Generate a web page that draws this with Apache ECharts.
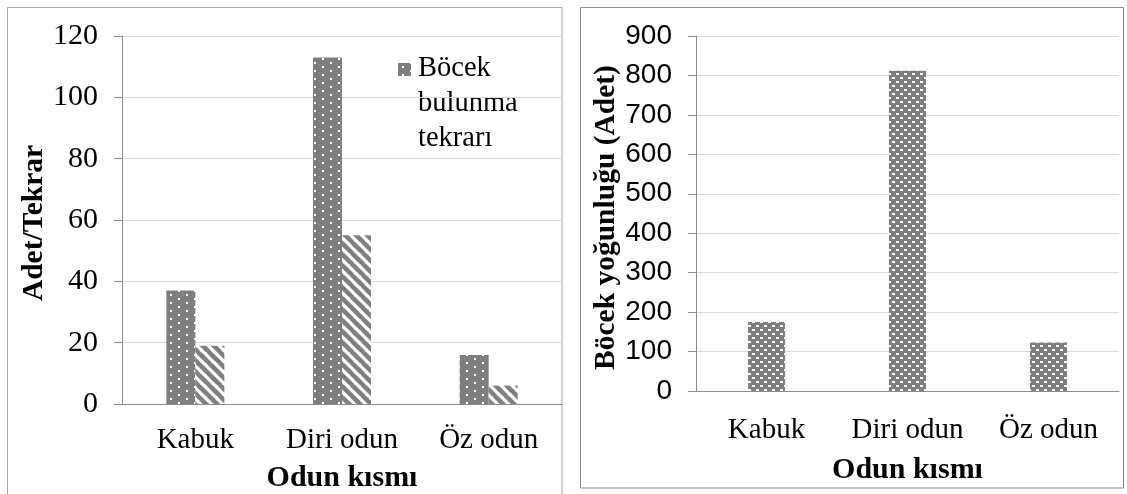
<!DOCTYPE html>
<html>
<head>
<meta charset="utf-8">
<script src="https://cdn.jsdelivr.net/npm/echarts@6/dist/echarts.min.js"></script>
<style>
    html, body { margin: 0; background: #fff; }
    #chart { width: 1127px; height: 494px; }
</style>
</head>
<body>
<div id="chart"></div>
<script>
// kategori ve değerler
const categories = ['Kabuk', 'Diri odun', 'Öz odun'];
const bulunmaTekrari = [37, 113, 16];
const ikinciSeri = [19, 55, 6];
const yogunluk = [175, 812, 123];

const leftAxis = { min: 0, max: 120, interval: 20 };
const rightAxis = { min: 0, max: 900, interval: 100 };

const serif = 'Liberation Serif, Times New Roman, serif';
const sans = 'Liberation Sans, Arial, sans-serif';
const gray = '#7f7f7f';

function tile(w, h, draw) {
    const c = document.createElement('canvas');
    c.width = w;
    c.height = h;
    draw(c.getContext('2d'));
    return { image: c, repeat: 'repeat' };
}

// noktalı desen
const dotted = tile(16, 8, (g) => {
    g.fillStyle = gray;
    g.fillRect(0, 0, 16, 8);
    g.fillStyle = '#fff';
    g.fillRect(2, 2, 2, 2);
    g.fillRect(10, 6, 2, 2);
});

// çapraz çizgili desen
const hatched = tile(11, 11, (g) => {
    g.fillStyle = '#fff';
    g.fillRect(0, 0, 11, 11);
    g.strokeStyle = gray;
    g.lineWidth = 4.5;
    [-11, 0, 11].forEach((o) => {
        g.beginPath();
        g.moveTo(o - 1, -1);
        g.lineTo(o + 12, 12);
        g.stroke();
    });
});

// tuğla desen
const brick = tile(8, 8, (g) => {
    g.fillStyle = gray;
    g.fillRect(0, 0, 8, 8);
    g.fillStyle = '#fff';
    g.fillRect(0, 1, 3, 2);
    g.fillRect(4, 5, 3, 2);
});

const nameStyle = { color: '#000', fontFamily: serif, fontSize: 30, fontWeight: 'bold' };

const valueAxisBase = {
    type: 'value',
    axisLine: { show: true, lineStyle: { color: '#8c8c8c', width: 1 } },
    axisTick: { show: true, inside: false, length: 8, lineStyle: { color: '#8c8c8c' } },
    splitLine: { lineStyle: { color: '#d9d9d9', width: 1 } },
    nameLocation: 'middle',
};

const catAxisBase = {
    type: 'category',
    data: categories,
    axisLine: { lineStyle: { color: '#8c8c8c', width: 1 } },
    axisTick: { show: false },
    nameLocation: 'middle',
    nameTextStyle: nameStyle,
};

const chart = echarts.init(document.getElementById('chart'));
chart.setOption({
    animation: false,
    textStyle: { fontFamily: serif },
    grid: [
        { left: 122, top: 36, width: 440, height: 368, outerBoundsMode: 'none', containLabel: false },
        { left: 696, top: 36, width: 423, height: 355, outerBoundsMode: 'none', containLabel: false },
    ],
    xAxis: [
        Object.assign({}, catAxisBase, {
            gridIndex: 0,
            name: 'Odun kısmı',
            nameGap: 59,
            axisLabel: { color: '#000', fontFamily: serif, fontSize: 29, margin: 22, interval: 0 },
        }),
        Object.assign({}, catAxisBase, {
            gridIndex: 1,
            name: 'Odun kısmı',
            nameGap: 64,
            axisLabel: { color: '#000', fontFamily: serif, fontSize: 29, margin: 25, interval: 0 },
        }),
    ],
    yAxis: [
        Object.assign({}, valueAxisBase, leftAxis, {
            gridIndex: 0,
            name: 'Adet/Tekrar',
            nameGap: 73,
            nameTextStyle: Object.assign({}, nameStyle, { fontSize: 29.5, padding: [0, 6, 0, 0] }),
            axisLabel: { color: '#000', fontFamily: serif, fontSize: 30, margin: 24 },
        }),
        Object.assign({}, valueAxisBase, rightAxis, {
            gridIndex: 1,
            name: 'Böcek yoğunluğu (Adet)',
            nameGap: 72,
            nameTextStyle: Object.assign({}, nameStyle, { fontSize: 29.5, padding: [0, 8, 0, 0] }),
            axisLabel: { color: '#000', fontFamily: sans, fontSize: 28, margin: 24 },
        }),
    ],
    series: [
        {
            name: 'Böcek bulunma tekrarı',
            type: 'bar',
            xAxisIndex: 0,
            yAxisIndex: 0,
            barWidth: 29,
            barGap: '0%',
            itemStyle: { color: dotted },
            data: bulunmaTekrari,
        },
        {
            name: 'Seri 2',
            type: 'bar',
            xAxisIndex: 0,
            yAxisIndex: 0,
            barWidth: 29,
            barGap: '0%',
            itemStyle: { color: hatched },
            data: ikinciSeri,
        },
        {
            name: 'Böcek yoğunluğu',
            type: 'bar',
            xAxisIndex: 1,
            yAxisIndex: 1,
            barWidth: 37,
            itemStyle: { color: brick },
            data: yogunluk,
        },
    ],
    graphic: [
        {
            type: 'rect',
            shape: { x: 7.5, y: 7.5, width: 554.5, height: 500 },
            style: { fill: 'none', stroke: '#a6a6a6', lineWidth: 1 },
            z: -1,
        },
        {
            type: 'rect',
            shape: { x: 580.5, y: 7.5, width: 543, height: 480.5 },
            style: { fill: 'none', stroke: '#8c8c8c', lineWidth: 1 },
            z: -1,
        },
        // gösterge
        {
            type: 'rect',
            shape: { x: 398, y: 63, width: 13, height: 13 },
            style: { fill: dotted },
        },
        {
            type: 'text',
            x: 418,
            y: 51,
            style: {
                text: 'Böcek\nbulunma\ntekrarı',
                font: '28.5px ' + serif,
                lineHeight: 35,
                fill: '#000',
                verticalAlign: 'top',
            },
        },
    ],
});
</script>
</body>
</html>
